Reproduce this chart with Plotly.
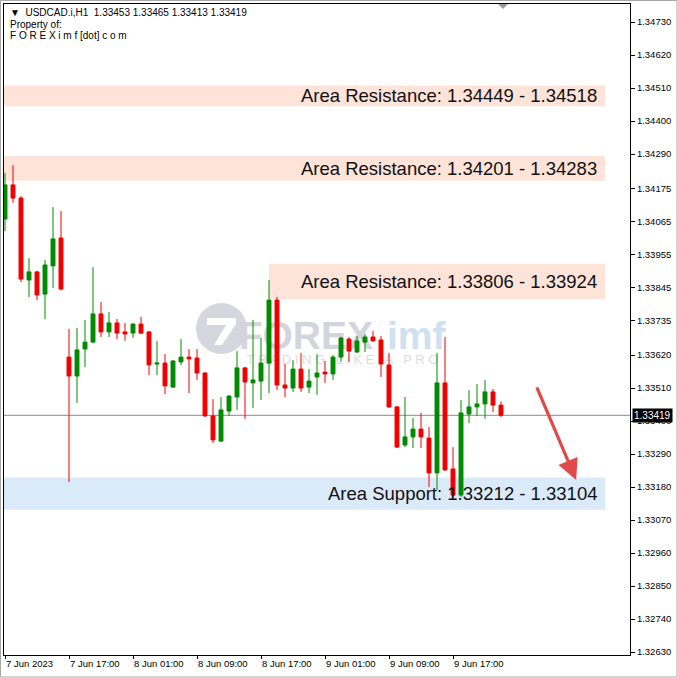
import plotly.graph_objects as go

# ---------------- data ----------------
symbol_header = "▼  USDCAD.i,H1  1.33453 1.33465 1.33413 1.33419"
opens = [1.34073, 1.34187, 1.34143, 1.33870, 1.33897, 1.33823, 1.33917, 1.34010,
         1.33613, 1.33550, 1.33640, 1.33663, 1.33757, 1.33697, 1.33727, 1.33697,
         1.33693, 1.33723, 1.33697, 1.33590, 1.33593, 1.33513, 1.33597, 1.33613,
         1.33610, 1.33560, 1.33417, 1.33333, 1.33433, 1.33480, 1.33577, 1.33527,
         1.33533, 1.33593, 1.33803, 1.33520, 1.33510, 1.33573, 1.33513, 1.33547,
         1.33563, 1.33557, 1.33613, 1.33673, 1.33630, 1.33663, 1.33680, 1.33670,
         1.33587, 1.33447, 1.33320, 1.33347, 1.33373, 1.33343, 1.33227, 1.33527,
         1.33240, 1.33153, 1.33423, 1.33447, 1.33457, 1.33497, 1.33453]
highs = [1.34227, 1.34253, 1.34150, 1.33943, 1.33900, 1.33937, 1.34113, 1.34100,
         1.33707, 1.33710, 1.33737, 1.33913, 1.33797, 1.33763, 1.33740, 1.33727,
         1.33727, 1.33747, 1.33700, 1.33667, 1.33623, 1.33603, 1.33673, 1.33640,
         1.33640, 1.33563, 1.33473, 1.33480, 1.33487, 1.33633, 1.33580, 1.33737,
         1.33677, 1.33870, 1.33813, 1.33590, 1.33603, 1.33627, 1.33573, 1.33623,
         1.33600, 1.33620, 1.33680, 1.33680, 1.33683, 1.33690, 1.33700, 1.33683,
         1.33627, 1.33450, 1.33480, 1.33410, 1.33427, 1.33380, 1.33627, 1.33680,
         1.33313, 1.33470, 1.33503, 1.33523, 1.33537, 1.33507, 1.33465]
lows = [1.34033, 1.34127, 1.33863, 1.33813, 1.33803, 1.33740, 1.33843, 1.33835,
        1.33197, 1.33460, 1.33580, 1.33660, 1.33680, 1.33680, 1.33673, 1.33667,
        1.33677, 1.33690, 1.33553, 1.33553, 1.33490, 1.33510, 1.33587, 1.33493,
        1.33537, 1.33413, 1.33327, 1.33330, 1.33417, 1.33437, 1.33407, 1.33443,
        1.33470, 1.33493, 1.33503, 1.33480, 1.33497, 1.33497, 1.33493, 1.33487,
        1.33527, 1.33537, 1.33597, 1.33597, 1.33627, 1.33630, 1.33665, 1.33547,
        1.33443, 1.33310, 1.33313, 1.33310, 1.33310, 1.33180, 1.33170, 1.33233,
        1.33147, 1.33147, 1.33393, 1.33417, 1.33407, 1.33430, 1.33413]
closes = [1.34187, 1.34143, 1.33873, 1.33897, 1.33820, 1.33920, 1.34007, 1.33840,
          1.33550, 1.33637, 1.33663, 1.33757, 1.33697, 1.33727, 1.33693, 1.33690,
          1.33723, 1.33693, 1.33587, 1.33593, 1.33517, 1.33600, 1.33613, 1.33607,
          1.33560, 1.33417, 1.33337, 1.33437, 1.33483, 1.33577, 1.33530, 1.33537,
          1.33593, 1.33803, 1.33520, 1.33510, 1.33573, 1.33510, 1.33533, 1.33560,
          1.33557, 1.33613, 1.33677, 1.33633, 1.33667, 1.33680, 1.33667, 1.33590,
          1.33447, 1.33313, 1.33347, 1.33373, 1.33347, 1.33227, 1.33527, 1.33237,
          1.33153, 1.33427, 1.33447, 1.33457, 1.33497, 1.33453, 1.33419]
bar_index = list(range(len(opens)))

x_tick_index = [0, 8, 16, 24, 32, 40, 48, 56]
x_tick_labels = ["7 Jun 2023", "7 Jun 17:00", "8 Jun 01:00", "8 Jun 09:00",
                 "8 Jun 17:00", "9 Jun 01:00", "9 Jun 09:00", "9 Jun 17:00"]
y_tick_values = [1.34730, 1.34620, 1.34510, 1.34400, 1.34290, 1.34175, 1.34065,
                 1.33955, 1.33845, 1.33735, 1.33620, 1.33510, 1.33400, 1.33290,
                 1.33180, 1.33070, 1.32960, 1.32850, 1.32740, 1.32630]

res_low = [1.34449, 1.34201, 1.33806]
res_high = [1.34518, 1.34283, 1.33924]
res_start = [-1, -1, 33]
sup_low = [1.33104]
sup_high = [1.33212]
sup_start = [-1]
zone_end = 75
last_price = 1.33419
arrow_from = (66.4, 1.33517)
arrow_to = (71.4, 1.33203)

GREEN = "#008a00"
RED = "#f00000"

fig = go.Figure()
fig.add_trace(go.Candlestick(
    x=bar_index, open=opens, high=highs, low=lows, close=closes,
    increasing=dict(line=dict(color=GREEN, width=1), fillcolor=GREEN),
    decreasing=dict(line=dict(color=RED, width=1), fillcolor=RED),
    whiskerwidth=0, hoverinfo="skip", showlegend=False,
))

shapes = []
annotations = []
zone_font = dict(family="Liberation Sans", size=18.5, color="#111111")
for lo, hi, st in zip(res_low, res_high, res_start):
    shapes.append(dict(type="rect", xref="x", yref="y", x0=st, x1=zone_end,
                       y0=lo, y1=hi, fillcolor="#fde3d8", line_width=0, layer="below"))
    annotations.append(dict(xref="x", yref="y", x=74.2, y=(lo + hi) / 2,
                            xanchor="right", yanchor="middle", showarrow=False,
                            text=f"Area Resistance: {lo:.5f} - {hi:.5f}", font=zone_font))
for lo, hi, st in zip(sup_low, sup_high, sup_start):
    shapes.append(dict(type="rect", xref="x", yref="y", x0=st, x1=zone_end,
                       y0=lo, y1=hi, fillcolor="#dbeaf8", line_width=0, layer="below"))
    annotations.append(dict(xref="x", yref="y", x=74.2, y=(lo + hi) / 2,
                            xanchor="right", yanchor="middle", showarrow=False,
                            text=f"Area Support: {hi:.5f} - {lo:.5f}", font=zone_font))

# last price line
shapes.append(dict(type="line", xref="paper", yref="y", x0=0, x1=1,
                   y0=last_price, y1=last_price, line=dict(color="#8a8a8a", width=1),
                   layer="below"))

# watermark (below candles)
def px(xp):
    return (xp - 4) / 626.0
def py(yp):
    return (655 - yp) / 651.0

shapes.append(dict(type="circle", xref="paper", yref="paper",
                   x0=px(196), x1=px(247), y0=py(354), y1=py(303),
                   fillcolor="#d6d6de", line_width=0, layer="below"))
shapes.append(dict(type="path", xref="paper", yref="paper", layer="below",
                   path=(f"M {px(207)} {py(318)} L {px(236)} {py(318)} L {px(236)} {py(324)} "
                         f"L {px(222)} {py(345)} L {px(214)} {py(345)} L {px(226)} {py(325)} "
                         f"L {px(207)} {py(325)} Z"),
                   fillcolor="#ffffff", line_width=0))
shapes.append(dict(type="rect", xref="paper", yref="paper", layer="below",
                   x0=px(250), x1=px(379), y0=py(350), y1=py(312),
                   line_width=0, fillcolor="rgba(0,0,0,0)",
                   label=dict(text="<b>FOREX</b>", textposition="middle right",
                              font=dict(family="Liberation Sans", size=39, color="#d4d4dc"))))
shapes.append(dict(type="rect", xref="paper", yref="paper", layer="below",
                   x0=px(381), x1=px(436), y0=py(350), y1=py(312),
                   line_width=0, fillcolor="rgba(0,0,0,0)",
                   label=dict(text="<b>imf</b>", textposition="middle left",
                              font=dict(family="Liberation Sans", size=39, color="#cfe0f2"))))
shapes.append(dict(type="rect", xref="paper", yref="paper", layer="below",
                   x0=px(250), x1=px(435), y0=py(366), y1=py(350),
                   line_width=0, fillcolor="rgba(0,0,0,0)",
                   label=dict(text="T R A D I N G   L I K E   A   P R O", textposition="middle center",
                              font=dict(family="Liberation Sans", size=13, color="#dcdce2"))))

# shift marker triangle at top
shapes.append(dict(type="path", xref="paper", yref="paper",
                   path=f"M {px(498)} {py(4)} L {px(508)} {py(4)} L {px(503)} {py(9)} Z",
                   fillcolor="#9a9a9a", line_width=0))
# outer window frame
shapes.append(dict(type="rect", xref="paper", yref="paper",
                   x0=px(0.5), x1=px(677), y0=py(677), y1=py(0.5),
                   line=dict(color="#a8a8a8", width=1), fillcolor="rgba(0,0,0,0)"))

# arrow
annotations.append(dict(xref="x", yref="y", axref="x", ayref="y",
                        x=arrow_to[0], y=arrow_to[1], ax=arrow_from[0], ay=arrow_from[1],
                        showarrow=True, arrowhead=2, arrowsize=1.3, arrowwidth=3.2,
                        arrowcolor="#e04a4a", text=""))

# header text
hdr_font = dict(family="Liberation Sans", size=10, color="#000000")
for txt, ypix in [(symbol_header, 12), ("Property of:", 24), ("F O R E X i m f [dot] c o m", 36)]:
    annotations.append(dict(xref="paper", yref="paper", x=px(8), y=py(ypix),
                            xanchor="left", yanchor="middle", showarrow=False,
                            text=txt, font=hdr_font))

# last price label on the axis
annotations.append(dict(xref="paper", yref="y", x=1.0, y=last_price,
                        xanchor="left", yanchor="middle", showarrow=False,
                        text=f"{last_price:.5f}", bgcolor="#000000", borderpad=1,
                        xshift=2, font=dict(family="Liberation Sans", size=10, color="#ffffff")))

fig.update_layout(
    width=678, height=678,
    margin=dict(l=4, r=48, t=4, b=23),
    paper_bgcolor="#ffffff", plot_bgcolor="#ffffff",
    shapes=shapes, annotations=annotations,
    showlegend=False,
    xaxis=dict(range=[-0.125, 78.125], rangeslider=dict(visible=False),
               tickvals=x_tick_index, ticktext=x_tick_labels,
               ticklabelposition="outside right", ticks="outside", ticklen=3,
               tickcolor="#000000", showgrid=False, zeroline=False,
               showline=True, linecolor="#000000", linewidth=1, mirror=True,
               tickfont=dict(family="Liberation Sans", size=9.5, color="#000000")),
    yaxis=dict(range=[1.32620, 1.34790], side="right",
               tickvals=y_tick_values, ticktext=[f"{v:.5f}" for v in y_tick_values],
               ticks="outside", ticklen=4, tickcolor="#000000",
               showgrid=False, zeroline=False,
               showline=True, linecolor="#000000", linewidth=1, mirror=True,
               tickfont=dict(family="Liberation Sans", size=9.5, color="#000000")),
)

fig.write_html("out.html", config={"displayModeBar": False},
               post_script="document.body.style.margin='0';")
